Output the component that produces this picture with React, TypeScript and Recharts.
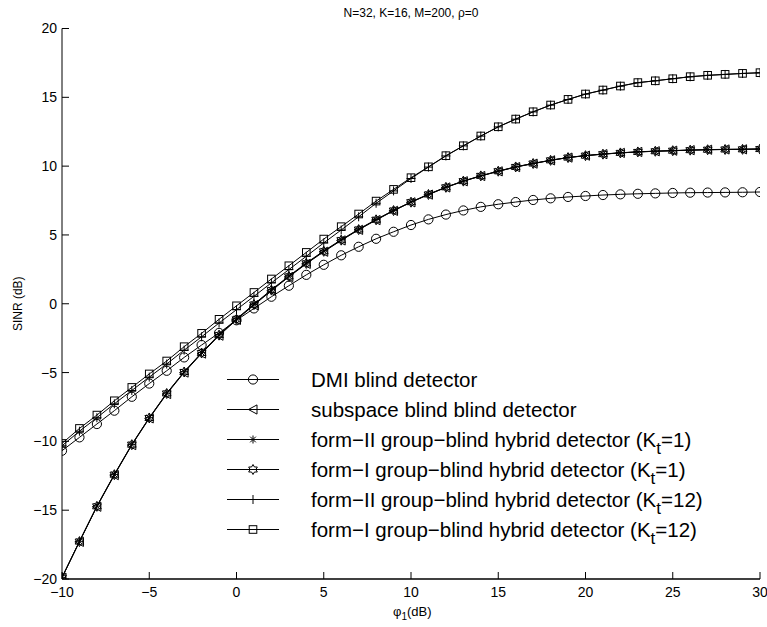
import React from 'react';
import { LineChart, Line, XAxis, YAxis, Legend } from 'recharts';

const snr = [-10, -9, -8, -7, -6, -5, -4, -3, -2, -1, 0, 1, 2, 3, 4, 5, 6, 7, 8, 9, 10, 11, 12, 13, 14, 15, 16, 17, 18, 19, 20, 21, 22, 23, 24, 25, 26, 27, 28, 29, 30];

const dmiBlind = [-10.68, -9.71, -8.74, -7.77, -6.76, -5.8, -4.87, -3.9, -3.0, -2.12, -1.2, -0.34, 0.51, 1.31, 2.1, 2.83, 3.52, 4.14, 4.72, 5.23, 5.72, 6.13, 6.48, 6.78, 7.04, 7.23, 7.39, 7.54, 7.66, 7.76, 7.83, 7.9, 7.95, 7.99, 8.02, 8.05, 8.07, 8.08, 8.09, 8.1, 8.12];

const subspaceBlind = [-19.9, -17.3, -14.75, -12.45, -10.27, -8.33, -6.56, -5.0, -3.62, -2.32, -1.17, -0.1, 0.95, 1.95, 2.9, 3.78, 4.6, 5.37, 6.08, 6.75, 7.37, 7.93, 8.45, 8.9, 9.28, 9.62, 9.93, 10.18, 10.42, 10.62, 10.76, 10.87, 10.96, 11.03, 11.08, 11.12, 11.16, 11.19, 11.21, 11.22, 11.24];

const formIIKt1 = [-19.88, -17.26, -14.7, -12.4, -10.22, -8.28, -6.5, -4.94, -3.55, -2.25, -1.1, -0.03, 1.02, 2.01, 2.96, 3.84, 4.65, 5.42, 6.12, 6.79, 7.4, 7.96, 8.47, 8.92, 9.3, 9.64, 9.95, 10.2, 10.43, 10.63, 10.77, 10.88, 10.97, 11.04, 11.09, 11.13, 11.17, 11.2, 11.22, 11.23, 11.25];

const formIKt1 = [-19.9, -17.28, -14.72, -12.42, -10.24, -8.3, -6.52, -4.96, -3.58, -2.28, -1.13, -0.06, 0.99, 1.98, 2.93, 3.81, 4.62, 5.39, 6.1, 6.77, 7.38, 7.94, 8.46, 8.91, 9.29, 9.63, 9.94, 10.19, 10.42, 10.62, 10.76, 10.87, 10.96, 11.03, 11.08, 11.12, 11.16, 11.19, 11.21, 11.22, 11.24];

const formIIKt12 = [-10.32, -9.26, -8.28, -7.27, -6.3, -5.33, -4.38, -3.37, -2.4, -1.4, -0.43, 0.54, 1.52, 2.48, 3.45, 4.42, 5.36, 6.32, 7.3, 8.2, 9.1, 9.93, 10.74, 11.47, 12.18, 12.85, 13.41, 13.94, 14.43, 14.84, 15.23, 15.52, 15.81, 16.06, 16.2, 16.35, 16.49, 16.59, 16.66, 16.73, 16.78];

const formIKt12 = [-10.15, -9.06, -8.09, -7.05, -6.08, -5.1, -4.16, -3.12, -2.15, -1.13, -0.15, 0.82, 1.8, 2.76, 3.73, 4.7, 5.6, 6.52, 7.46, 8.31, 9.16, 9.95, 10.76, 11.48, 12.19, 12.86, 13.42, 13.95, 14.44, 14.85, 15.24, 15.53, 15.82, 16.07, 16.2, 16.35, 16.5, 16.6, 16.67, 16.74, 16.79];

const xTicks = [-10, -5, 0, 5, 10, 15, 20, 25, 30];
const yTicks = [-20, -15, -10, -5, 0, 5, 10, 15, 20];

const titleText = 'N=32, K=16, M=200, \u03C1=0';
const yLabelText = 'SINR (dB)';

type Shape = 'circle' | 'triangle' | 'asterisk' | 'hexagram' | 'plus' | 'square';

const seriesKeys = ['dmi', 'sub', 'f2k1', 'f1k1', 'f2k12', 'f1k12'];
const seriesShapes: Shape[] = ['circle', 'triangle', 'asterisk', 'hexagram', 'plus', 'square'];
const legendLabels: [string, string, string][] = [
  ['DMI blind detector', '', ''],
  ['subspace blind blind detector', '', ''],
  ['form\u2212II group\u2212blind hybrid detector (K', 't', '=1)'],
  ['form\u2212I group\u2212blind hybrid detector (K', 't', '=1)'],
  ['form\u2212II group\u2212blind hybrid detector (K', 't', '=12)'],
  ['form\u2212I group\u2212blind hybrid detector (K', 't', '=12)'],
];

const seriesValues = [dmiBlind, subspaceBlind, formIIKt1, formIKt1, formIIKt12, formIKt12];

const data = snr.map((x, i) => {
  const row: Record<string, number> = { x };
  seriesKeys.forEach((k, j) => {
    row[k] = seriesValues[j][i];
  });
  return row;
});

const FONT = '"Liberation Sans", Arial, Helvetica, sans-serif';

function Marker({ shape, cx, cy }: { shape: Shape; cx: number; cy: number }) {
  const st = { fill: 'none', stroke: '#000', strokeWidth: 1 };
  if (cx == null || cy == null || isNaN(cx) || isNaN(cy)) return <g />;
  switch (shape) {
    case 'circle':
      return <circle cx={cx} cy={cy} r={4.6} {...st} />;
    case 'triangle':
      return (
        <polygon
          points={`${cx - 4.6},${cy} ${cx + 4},${cy - 4.6} ${cx + 4},${cy + 4.6}`}
          {...st}
        />
      );
    case 'asterisk': {
      const r = 4;
      const d = r * 0.7071;
      return (
        <path
          d={`M${cx - r},${cy}L${cx + r},${cy}M${cx},${cy - r}L${cx},${cy + r}M${cx - d},${cy - d}L${cx + d},${cy + d}M${cx - d},${cy + d}L${cx + d},${cy - d}`}
          {...st}
        />
      );
    }
    case 'hexagram': {
      const R = 5;
      const r = R / Math.sqrt(3);
      const pts: string[] = [];
      for (let k = 0; k < 12; k++) {
        const a = (-90 + k * 30) * (Math.PI / 180);
        const rr = k % 2 === 0 ? R : r;
        pts.push(`${cx + rr * Math.cos(a)},${cy + rr * Math.sin(a)}`);
      }
      return <polygon points={pts.join(' ')} {...st} />;
    }
    case 'plus': {
      const r = 4.5;
      return <path d={`M${cx - r},${cy}L${cx + r},${cy}M${cx},${cy - r}L${cx},${cy + r}`} {...st} />;
    }
    case 'square':
    default:
      return <rect x={cx - 3.8} y={cy - 3.8} width={7.6} height={7.6} {...st} />;
  }
}

const fmt = (v: number) => (v < 0 ? '\u2212' + Math.abs(v) : String(v));

function LegendBox() {
  const lineX1 = 227;
  const lineX2 = 279;
  const textX = 311;
  const y0 = 379.5;
  const dy = 30;
  return (
    <svg width={767} height={627} style={{ position: 'absolute', left: 0, top: 0, overflow: 'visible' }}>
      <text x={411} y={17} textAnchor="middle" fontSize={12} fontFamily={FONT} fill="#000">
        {titleText}
      </text>
      {legendLabels.map((lab, i) => {
        const y = y0 + i * dy;
        return (
          <g key={i}>
            <line x1={lineX1} x2={lineX2} y1={y} y2={y} stroke="#000" strokeWidth={1} />
            <Marker shape={seriesShapes[i]} cx={(lineX1 + lineX2) / 2} cy={y} />
            <text x={textX} y={y + 7.3} fontSize={20.5} fontFamily={FONT} fill="#000">
              {lab[0]}
              {lab[1] ? (
                <tspan dy={7} fontSize={17}>
                  {lab[1]}
                </tspan>
              ) : null}
              {lab[2] ? (
                <tspan dy={-7} fontSize={20.5}>
                  {lab[2]}
                </tspan>
              ) : null}
            </text>
          </g>
        );
      })}
    </svg>
  );
}

export default function App() {
  return (
    <div style={{ position: 'absolute', left: 0, top: 0, width: 767, height: 627, background: '#fff' }}>
      <LineChart
        width={767}
        height={627}
        data={data}
        margin={{ top: 28.5, right: 7, bottom: 8, left: 12 }}
        style={{ fontFamily: FONT }}
      >
        <XAxis
          xAxisId="bottom"
          dataKey="x"
          type="number"
          domain={[-10, 30]}
          ticks={xTicks}
          interval={0}
          allowDataOverflow
          height={40}
          tickSize={-7}
          tickMargin={15}
          tickFormatter={fmt}
          axisLine={{ stroke: '#000', strokeWidth: 1.5 }}
          tickLine={{ stroke: '#000' }}
          tick={{ fill: '#000', fontSize: 14, fontFamily: FONT }}
          label={(p: any) => {
            const vb = p.viewBox || {};
            const cx = (vb.x ?? 62) + (vb.width ?? 698) / 2;
            return (
              <text x={cx - 18} y={616} fontSize={13} fontFamily={FONT} fill="#000">
                {'\u03C6'}
                <tspan dy={4} fontSize={10}>1</tspan>
                <tspan dy={-4} fontSize={13}>(dB)</tspan>
              </text>
            );
          }}
        />
        <XAxis
          xAxisId="top"
          orientation="top"
          dataKey="x"
          type="number"
          domain={[-10, 30]}
          ticks={xTicks}
          interval={0}
          allowDataOverflow
          height={0}
          tickSize={-7}
          tickFormatter={() => ''}
          axisLine={{ stroke: '#000' }}
          tickLine={{ stroke: '#000' }}
        />
        <YAxis
          yAxisId="left"
          type="number"
          domain={[-20, 20]}
          ticks={yTicks}
          interval={0}
          allowDataOverflow
          width={50}
          tickSize={-7}
          tickMargin={12}
          tickFormatter={fmt}
          axisLine={{ stroke: '#000' }}
          tickLine={{ stroke: '#000' }}
          tick={{ fill: '#000', fontSize: 14, fontFamily: FONT }}
          label={(p: any) => {
            const vb = p.viewBox || {};
            const cy = (vb.y ?? 28.5) + (vb.height ?? 550) / 2;
            return (
              <text
                x={22}
                y={cy}
                transform={`rotate(-90, 22, ${cy})`}
                textAnchor="middle"
                fontSize={12}
                fontFamily={FONT}
                fill="#000"
              >
                {yLabelText}
              </text>
            );
          }}
        />
        <YAxis
          yAxisId="right"
          orientation="right"
          type="number"
          domain={[-20, 20]}
          ticks={yTicks}
          interval={0}
          allowDataOverflow
          width={0}
          tickSize={-7}
          tickFormatter={() => ''}
          axisLine={{ stroke: '#000' }}
          tickLine={{ stroke: '#000' }}
        />
        {seriesKeys.map((k, j) => (
          <Line
            key={k}
            xAxisId="bottom"
            yAxisId="left"
            type="linear"
            dataKey={k}
            stroke="#000"
            strokeWidth={1}
            isAnimationActive={false}
            activeDot={false}
            legendType="none"
            dot={(p: any) => <Marker key={`${k}-${p.index}`} shape={seriesShapes[j]} cx={p.cx} cy={p.cy} />}
          />
        ))}
        <Legend
          layout="vertical"
          align="center"
          verticalAlign="middle"
          wrapperStyle={{ left: 0, top: 0, width: 767, height: 627, pointerEvents: 'none' }}
          content={() => <LegendBox />}
        />
      </LineChart>
    </div>
  );
}
